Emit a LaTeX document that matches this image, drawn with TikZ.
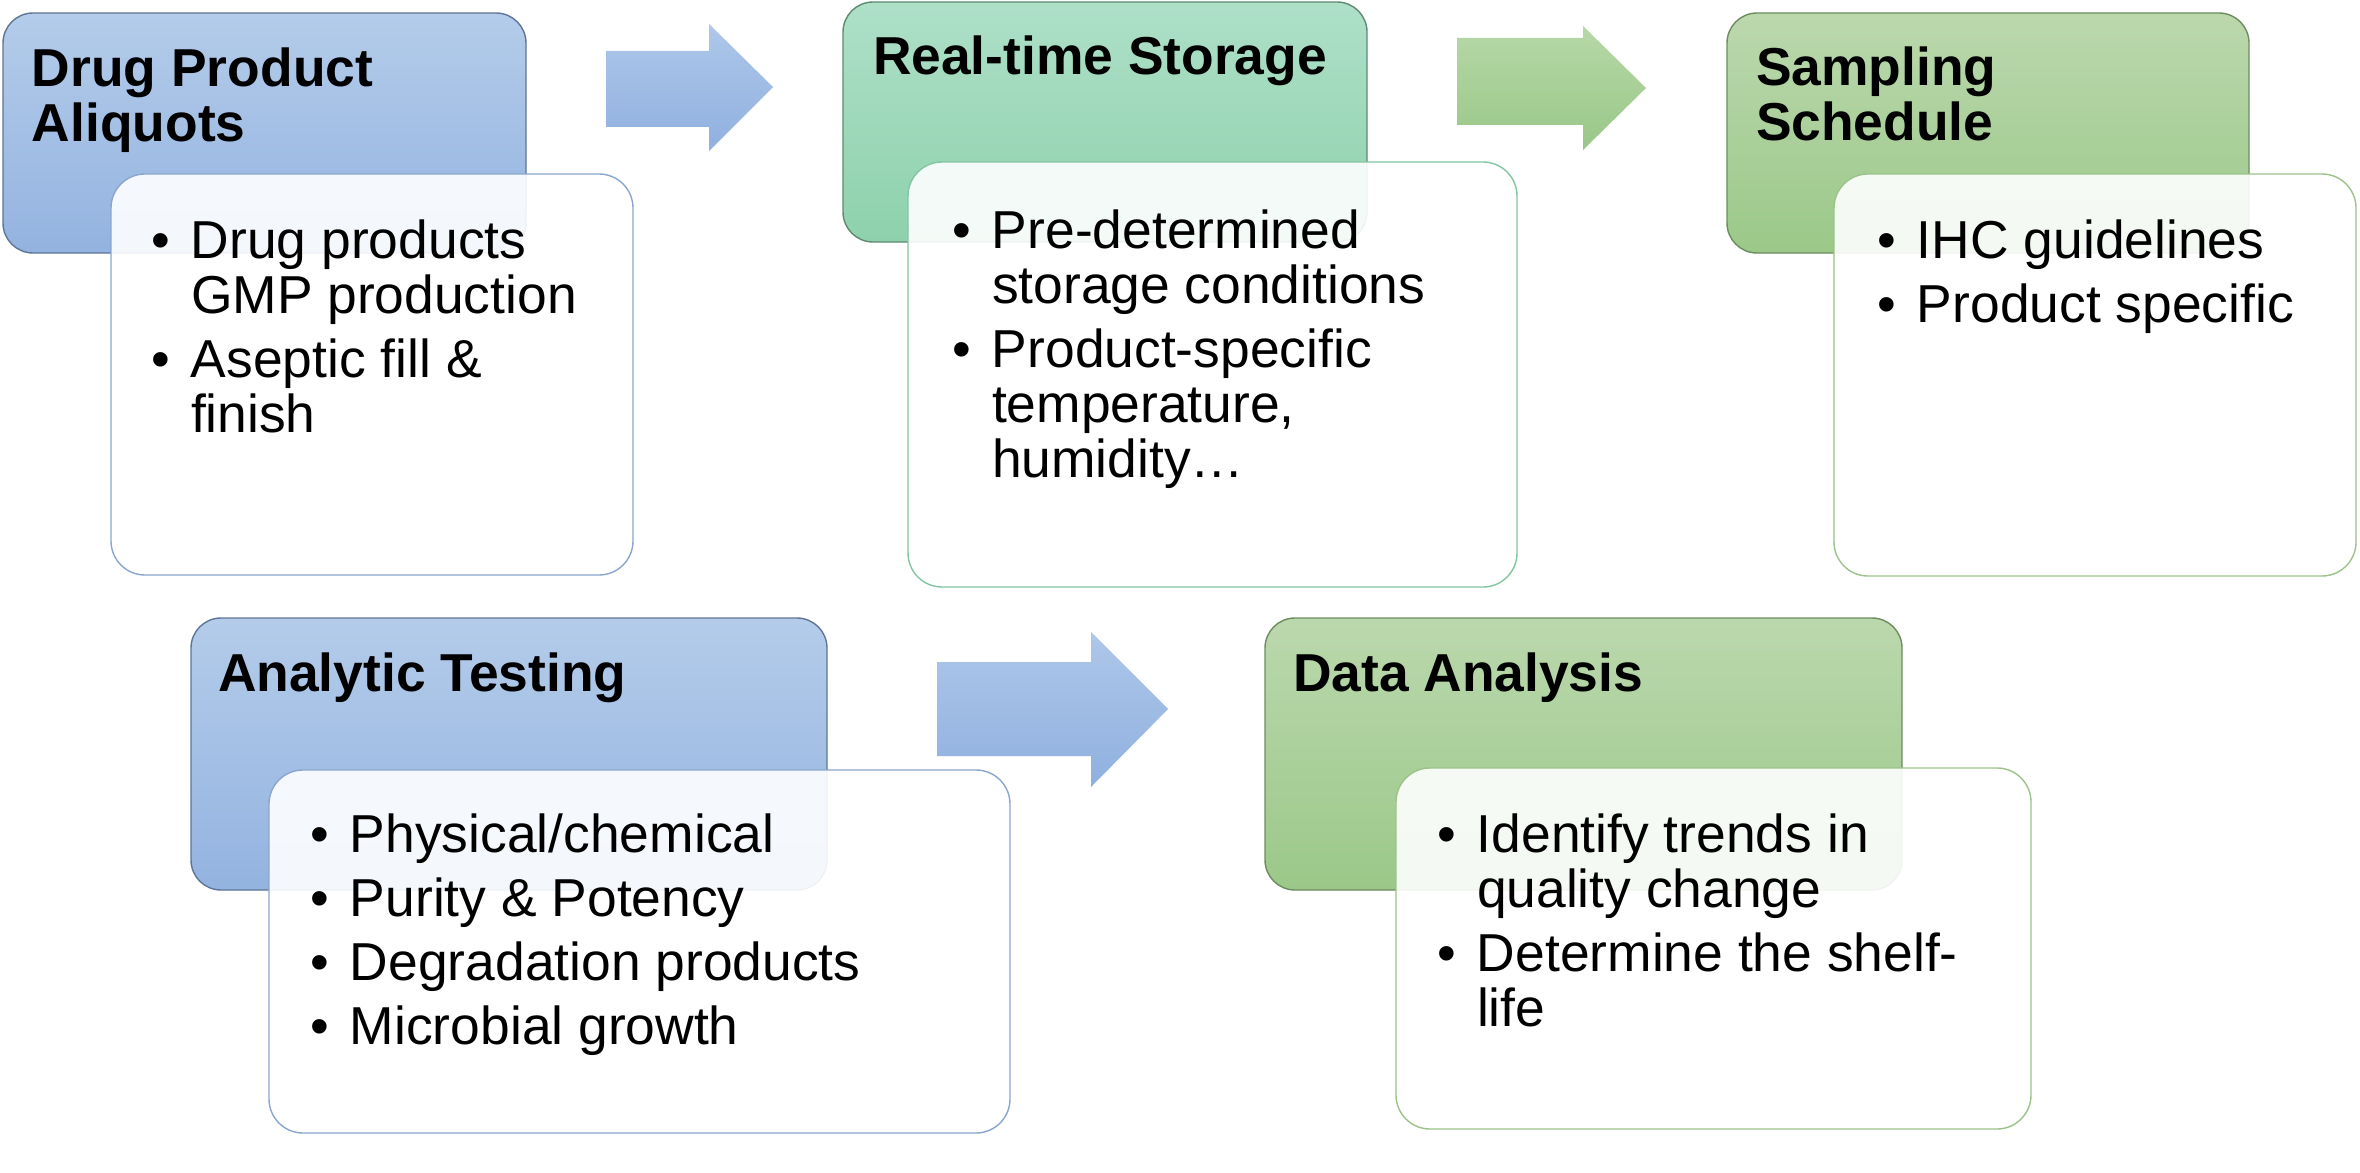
\documentclass[tikz,border=0pt]{standalone}
\usepackage{fontspec}
\setmainfont{Liberation Sans}
\newcommand{\bitem}[1]{\par\hangindent=20pt\hangafter=1\noindent\makebox[20pt][l]{\textbullet}#1\par}
\newcommand{\bodytext}[1]{\parbox[t]{330pt}{\raggedright\fontsize{26.7pt}{27.5pt}\selectfont\setlength{\parskip}{4.5pt}#1}}
\newcommand{\headtext}[1]{\parbox[t]{330pt}{\raggedright\fontsize{26.7pt}{27.5pt}\selectfont\bfseries #1}}
\definecolor{bluetop}{HTML}{B4CCEA}
\definecolor{bluebot}{HTML}{93B3E0}
\definecolor{blueedge}{HTML}{5E7596}
\definecolor{tealtop}{HTML}{AEE0C8}
\definecolor{tealbot}{HTML}{8ED1AC}
\definecolor{tealedge}{HTML}{5E8A72}
\definecolor{greentop}{HTML}{BBD8AD}
\definecolor{greenbot}{HTML}{9BC889}
\definecolor{greenedge}{HTML}{6E8C5F}
\definecolor{wblue}{HTML}{8AA6CE}
\definecolor{wteal}{HTML}{82C6A4}
\definecolor{wgreen}{HTML}{9CC38A}
\definecolor{arrbluetop}{HTML}{AEC7EA}
\definecolor{arrbluebot}{HTML}{8FB0DF}
\definecolor{arrgreentop}{HTML}{B6D8A7}
\definecolor{arrgreenbot}{HTML}{99C788}
\tikzset{
  hdr/.style={rounded corners=15pt, line width=0.7pt},
  hblue/.style={hdr, top color=bluetop, bottom color=bluebot, draw=blueedge},
  hteal/.style={hdr, top color=tealtop, bottom color=tealbot, draw=tealedge},
  hgreen/.style={hdr, top color=greentop, bottom color=greenbot, draw=greenedge},
  card/.style={rounded corners=17pt, fill=white, fill opacity=0.9, line width=0.7pt},
  blockblue/.style={top color=arrbluetop, bottom color=arrbluebot},
  blockgreen/.style={top color=arrgreentop, bottom color=arrgreenbot},
  txt/.style={anchor=base west, inner sep=0pt, outer sep=0pt}
}
\begin{document}
\begin{tikzpicture}[x=0.5pt,y=-0.5pt]
\fill[white] (0,0) rectangle (2360,1172);
\useasboundingbox (0,0) rectangle (2360,1172);

% ---- Step 1
\shade[hblue] (3,13) rectangle (526,253);
\node[txt] (h1) at (32,87) {\headtext{Drug Product\newline Aliquots}};
\path[card, draw=wblue] (111,174) rectangle (633,575);
\node[txt] (b1) at (151,258) {\bodytext{\bitem{Drug products\newline GMP production}\bitem{Aseptic fill \&\newline finish}}};

% ---- arrow 1
\shade[blockblue] (606,51) -- (709,51) -- (709,24) -- (773,87) -- (709,151) -- (709,127) -- (606,127) -- cycle;

% ---- Step 2
\shade[hteal] (843,2) rectangle (1367,242);
\node[txt] (h2) at (873,75) {\headtext{Real-time Storage}};
\path[card, draw=wteal] (908,162) rectangle (1517,587);
\node[txt] (b2) at (952,248) {\bodytext{\bitem{Pre-determined\newline storage conditions}\bitem{Product-specific\newline temperature,\newline humidity…}}};

% ---- arrow 2
\shade[blockgreen] (1457,38) -- (1583,38) -- (1583,26) -- (1646,88) -- (1583,150) -- (1583,125) -- (1457,125) -- cycle;

% ---- Step 3
\shade[hgreen] (1727,13) rectangle (2249,253);
\node[txt] (h3) at (1756,86) {\headtext{Sampling\newline Schedule}};
\path[card, draw=wgreen] (1834,174) rectangle (2356,576);
\node[txt] (b3) at (1877,258) {\bodytext{\bitem{IHC guidelines}\bitem{Product specific}}};

% ---- Step 4
\shade[hblue] (191,618) rectangle (827,890);
\node[txt] (h4) at (218,691) {\headtext{Analytic Testing}};
\path[card, draw=wblue] (269,770) rectangle (1010,1133);
\node[txt] (b4) at (310,852) {\bodytext{\bitem{Physical/chemical}\bitem{Purity \& Potency}\bitem{Degradation products}\bitem{Microbial growth}}};

% ---- arrow 3
\shade[blockblue] (937,662) -- (1091,662) -- (1091,632) -- (1168,709) -- (1091,787) -- (1091,756) -- (937,756) -- cycle;

% ---- Step 5
\shade[hgreen] (1265,618) rectangle (1902,890);
\node[txt] (h5) at (1293,691) {\headtext{Data Analysis}};
\path[card, draw=wgreen] (1396,768) rectangle (2031,1129);
\node[txt] (b5) at (1437,852) {\bodytext{\bitem{Identify trends in\newline quality change}\bitem{Determine the shelf-\newline life}}};
\end{tikzpicture}
\end{document}
